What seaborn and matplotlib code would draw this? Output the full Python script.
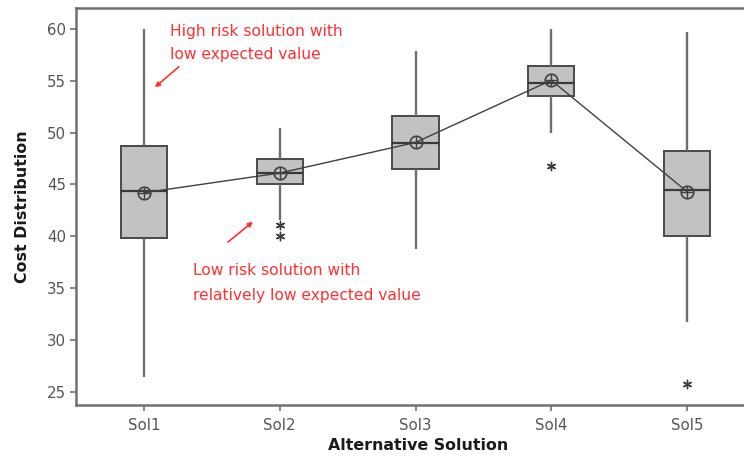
import numpy as np
import pandas as pd
import matplotlib
matplotlib.use("Agg")
import matplotlib.pyplot as plt
import seaborn as sns

# ---- data ----
solutions = ["Sol1", "Sol2", "Sol3", "Sol4", "Sol5"]
whisker_low = [26.4, 41.6, 38.8, 50.0, 31.7]
q1 = [39.8, 45.0, 46.5, 53.5, 40.05]
medians = [44.35, 46.15, 48.95, 54.75, 44.45]
q3 = [48.7, 47.5, 51.6, 56.45, 48.25]
whisker_high = [60.0, 50.45, 57.9, 60.0, 59.7]
means = [44.2, 46.1, 49.05, 55.05, 44.3]
outlier_solution = ["Sol2", "Sol2", "Sol4", "Sol5"]
outlier_value = [41.1, 40.0, 46.8, 25.75]
y_ticks = [25, 30, 35, 40, 45, 50, 55, 60]

# long-form table of the five-number summaries for seaborn
rows = []
for s, a, b, c, d, e in zip(solutions, whisker_low, q1, medians, q3, whisker_high):
    for v in (a, b, c, d, e):
        rows.append({"solution": s, "value": v})
df = pd.DataFrame(rows)
df_out = pd.DataFrame({"solution": outlier_solution, "value": outlier_value})
df_mean = pd.DataFrame({"solution": solutions, "value": means})

sns.set_style("ticks")
plt.rcParams["font.family"] = ["DejaVu Sans"]

W, H = 744, 457
fig = plt.figure(figsize=(W / 100, H / 100), dpi=100)
left_px, top_px, bottom_px, right_px = 76, 7.5, 405, 760
ax = fig.add_axes([left_px / W, (H - bottom_px) / H,
                   (right_px - left_px) / W, (bottom_px - top_px) / H])

edge = "#4a4a4a"
sns.boxplot(data=df, x="solution", y="value", order=solutions, ax=ax,
            whis=(0, 100), width=0.34, showcaps=False, showfliers=False,
            color="#c2c2c2", linecolor=edge, linewidth=1.4,
            boxprops=dict(facecolor="#c2c2c2", edgecolor=edge, linewidth=1.4),
            whiskerprops=dict(color="#6e6e6e", linewidth=1.7),
            medianprops=dict(color="#3a3a3a", linewidth=1.6))

# outliers as asterisks
sns.stripplot(data=df_out, x="solution", y="value", order=solutions, ax=ax,
              jitter=False, marker=(6, 2, 0), size=6, color="#3a3a3a",
              linewidth=1.0, zorder=5)

# mean connect line with circled-cross markers
sns.pointplot(data=df_mean, x="solution", y="value", order=solutions, ax=ax,
              errorbar=None, color="#404040", markers="o", linestyles="-",
              markersize=9, linewidth=1.0, markerfacecolor="none",
              markeredgewidth=1.2, zorder=6)
sns.pointplot(data=df_mean, x="solution", y="value", order=solutions, ax=ax,
              errorbar=None, color="#404040", markers="+", linestyles="none",
              markersize=9, markeredgewidth=1.0, zorder=7)

# axes
px_per_unit = 135.8
ax.set_xlim(-0.5, -0.5 + (right_px - left_px) / px_per_unit)
ax.set_ylim(23.72, 62.07)
ax.set_yticks(y_ticks)
ax.set_yticklabels([str(t) for t in y_ticks])
for sp in ax.spines.values():
    sp.set_color("#707070")
    sp.set_linewidth(1.8)
ax.spines["right"].set_visible(False)
ax.tick_params(axis="both", colors="#707070", labelcolor="#555555",
               labelsize=10.8, length=4, width=1.2)
ax.tick_params(axis="x", pad=5)
ax.tick_params(axis="y", pad=3)
ax.set_xlabel("Alternative Solution", fontsize=11.4, fontweight="bold",
              color="#1a1a1a", labelpad=4)
ax.set_ylabel("Cost Distribution", fontsize=11.4, fontweight="bold",
              color="#1a1a1a", labelpad=12)

# annotations
red = "#ff3030"
fs_ann = 11.2
ax.text(0.19, 59.74, "High risk solution with", color=red, fontsize=fs_ann,
        va="center", ha="left")
ax.text(0.19, 57.5, "low expected value", color=red, fontsize=fs_ann,
        va="center", ha="left")
ax.annotate("", xy=(0.081, 54.37), xytext=(0.258, 56.36),
            arrowprops=dict(arrowstyle="-|>", color=red, lw=1.2,
                            mutation_scale=7, shrinkA=0, shrinkB=0))
ax.text(0.359, 36.74, "Low risk solution with", color=red, fontsize=fs_ann,
        va="center", ha="left")
ax.text(0.359, 34.32, "relatively low expected value", color=red, fontsize=fs_ann,
        va="center", ha="left")
ax.annotate("", xy=(0.803, 41.40), xytext=(0.619, 39.44),
            arrowprops=dict(arrowstyle="-|>", color=red, lw=1.2,
                            mutation_scale=7, shrinkA=0, shrinkB=0))

fig.savefig("out.png", dpi=100)
